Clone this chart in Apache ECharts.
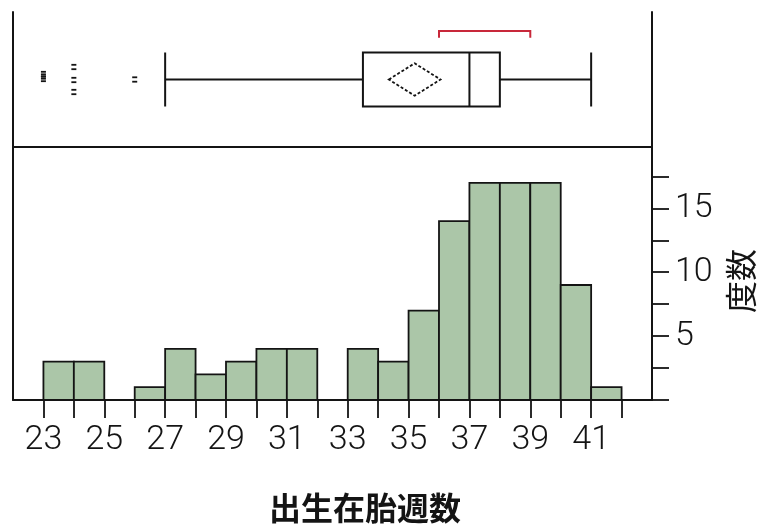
<!DOCTYPE html>
<html>
<head>
<meta charset="utf-8">
<style>
  html, body { margin: 0; padding: 0; background: #fff; }
  #chart { width: 762px; height: 525px; }
</style>
<script src="https://cdn.jsdelivr.net/npm/echarts@6/dist/echarts.min.js"></script>
</head>
<body>
<div id="chart"></div>
<script>
// Histogram bins (week at left edge, one week wide) and their counts
const binStarts = [23, 24, 25, 26, 27, 28, 29, 30, 31, 32, 33, 34, 35, 36, 37, 38, 39, 40, 41];
const counts    = [ 3,  3,  0,  1,  4,  2,  3,  4,  4,  0,  4,  3,  7, 14, 17, 17, 17,  9,  1];

// Axis ticks and labels
const xTickValues = [23, 24, 25, 26, 27, 28, 29, 30, 31, 32, 33, 34, 35, 36, 37, 38, 39, 40, 41, 42];
const xTickLabels = [23, 25, 27, 29, 31, 33, 35, 37, 39, 41];
const yTickValues = [0, 2.5, 5, 7.5, 10, 12.5, 15, 17.5];
const yTickLabels = [5, 10, 15];

// Outlier box plot summary
const whiskerLow  = 27;
const quartile1   = 33.5;
const median      = 37;
const quartile3   = 38;
const whiskerHigh = 41;
const mean        = 35.2;
const meanCI      = [34.35, 36.05];
const shortestHalf = [36, 39];
const outliers    = [23, 23, 23, 24, 24, 24, 26];

// vertical scatter of the outlier marks, in pixels from the box centre line
const outlierJitter = [-5.5, -3, -0.5, -12.5, 0.5, 12.5, 0];

const INK = '#141414';
const tickFont = { fontFamily: 'Roboto', fontWeight: 300, fontSize: 34, color: '#141414' };

function renderBox(params, api) {
  const h = params.coordSys.height;
  const pt = k => api.coord([api.value(k), 0.5]);
  const [xLo, cy] = pt(0);
  const xQ1 = pt(1)[0], xMed = pt(2)[0], xQ3 = pt(3)[0], xHi = pt(4)[0];
  const half = h * 0.2;
  const st = { stroke: INK, lineWidth: 2, fill: 'transparent' };
  const line = (x1, y1, x2, y2) => ({ type: 'line', shape: { x1, y1, x2, y2 }, style: st });
  return {
    type: 'group',
    children: [
      line(xLo, cy, xQ1, cy),
      line(xQ3, cy, xHi, cy),
      line(xLo, cy - half, xLo, cy + half),
      line(xHi, cy - half, xHi, cy + half),
      { type: 'rect', shape: { x: xQ1, y: cy - half, width: xQ3 - xQ1, height: 2 * half }, style: st },
      line(xMed, cy - half, xMed, cy + half)
    ]
  };
}

function renderDiamond(params, api) {
  const h = params.coordSys.height;
  const [xm, cy] = api.coord([api.value(0), 0.5]);
  const xl = api.coord([api.value(1), 0.5])[0];
  const xr = api.coord([api.value(2), 0.5])[0];
  const dh = h * 0.12;
  return {
    type: 'polygon',
    shape: { points: [[xl, cy], [xm, cy - dh], [xr, cy], [xm, cy + dh]] },
    style: { fill: 'transparent', stroke: INK, lineWidth: 1.8, lineDash: [3, 2] }
  };
}

function renderBracket(params, api) {
  const h = params.coordSys.height;
  const [x1, cy] = api.coord([api.value(0), 0.5]);
  const x2 = api.coord([api.value(1), 0.5])[0];
  const by = cy - h * 0.36;
  const leg = h * 0.05;
  return {
    type: 'polyline',
    shape: { points: [[x1, by + leg], [x1, by], [x2, by], [x2, by + leg]] },
    style: { fill: 'none', stroke: '#c8283a', lineWidth: 2 }
  };
}

function renderOutlier(params, api) {
  const [x, cy] = api.coord([api.value(0), 0.5]);
  const y = cy + outlierJitter[api.value(1)];
  const st = { stroke: INK, lineWidth: 1.8 };
  return {
    type: 'group',
    children: [
      { type: 'line', shape: { x1: x - 2.5, y1: y - 2.2, x2: x + 2.5, y2: y - 2.2 }, style: st },
      { type: 'line', shape: { x1: x - 2.5, y1: y + 2.2, x2: x + 2.5, y2: y + 2.2 }, style: st }
    ]
  };
}

function renderBar(params, api) {
  const start = api.value(0), n = api.value(1);
  if (!n) return null;
  const p0 = api.coord([start, 0]);
  const p1 = api.coord([start + 1, n]);
  return {
    type: 'rect',
    shape: { x: p0[0], y: p1[1], width: p1[0] - p0[0], height: p0[1] - p1[1] },
    style: { fill: '#abc6a8', stroke: INK, lineWidth: 1.8 }
  };
}

const frameLine = { show: true, lineStyle: { color: INK, width: 2 } };

const option = {
  animation: false,
  backgroundColor: '#ffffff',
  grid: [
    { left: 13, top: 12, width: 639, height: 135, containLabel: false, outerBoundsMode: 'none' },
    { left: 13, top: 147, width: 639, height: 253, containLabel: false, outerBoundsMode: 'none' }
  ],
  xAxis: [
    {
      gridIndex: 0, type: 'value', min: 22, max: 43, position: 'bottom',
      axisLine: frameLine, axisTick: { show: false }, axisLabel: { show: false }, splitLine: { show: false }
    },
    {
      gridIndex: 1, type: 'value', min: 22, max: 43, interval: 1, position: 'bottom',
      axisLine: frameLine,
      axisTick: { show: true, customValues: xTickValues, length: 18, lineStyle: { color: INK, width: 1.8 } },
      axisLabel: Object.assign({ show: true, customValues: xTickLabels, margin: 23 }, tickFont),
      splitLine: { show: false }
    }
  ],
  yAxis: [
    {
      gridIndex: 0, type: 'value', min: 0, max: 1, position: 'left',
      axisLine: frameLine, axisTick: { show: false }, axisLabel: { show: false }, splitLine: { show: false }
    },
    {
      gridIndex: 0, type: 'value', min: 0, max: 1, position: 'right',
      axisLine: frameLine, axisTick: { show: false }, axisLabel: { show: false }, splitLine: { show: false }
    },
    {
      gridIndex: 1, type: 'value', min: 0, max: 19.8, position: 'right',
      axisLine: frameLine,
      axisTick: { show: true, customValues: yTickValues, length: 17, lineStyle: { color: INK, width: 1.8 } },
      axisLabel: Object.assign({ show: true, customValues: yTickLabels, margin: 23 }, tickFont),
      splitLine: { show: false }
    },
    {
      gridIndex: 1, type: 'value', min: 0, max: 19.8, position: 'left',
      axisLine: frameLine, axisTick: { show: false }, axisLabel: { show: false }, splitLine: { show: false }
    }
  ],
  series: [
    {
      type: 'custom', name: 'box', xAxisIndex: 0, yAxisIndex: 0, clip: false,
      renderItem: renderBox,
      data: [[whiskerLow, quartile1, median, quartile3, whiskerHigh]]
    },
    {
      type: 'custom', name: 'mean', xAxisIndex: 0, yAxisIndex: 0, clip: false,
      renderItem: renderDiamond,
      data: [[mean, meanCI[0], meanCI[1]]]
    },
    {
      type: 'custom', name: 'shortest half', xAxisIndex: 0, yAxisIndex: 0, clip: false,
      renderItem: renderBracket,
      data: [shortestHalf]
    },
    {
      type: 'custom', name: 'outliers', xAxisIndex: 0, yAxisIndex: 0, clip: false,
      renderItem: renderOutlier,
      data: outliers.map((v, i) => [v, i])
    },
    {
      type: 'custom', name: '度数', xAxisIndex: 1, yAxisIndex: 2, clip: false,
      renderItem: renderBar,
      data: binStarts.map((b, i) => [b, counts[i]])
    }
  ],
  graphic: [
    {
      // axis title reads bottom-to-top beside the count axis
      type: 'text', x: 741, y: 281, rotation: Math.PI / 2,
      style: { text: '度数', fontFamily: '"Noto Sans CJK JP"', fontSize: 32, fill: INK, align: 'center', verticalAlign: 'middle' }
    },
    {
      type: 'text', x: 365, y: 508,
      style: { text: '出生在胎週数', fontFamily: '"Noto Sans CJK JP"', fontWeight: 'bold', fontSize: 32, fill: INK, align: 'center', verticalAlign: 'middle' }
    }
  ]
};

const chart = echarts.init(document.getElementById('chart'), null, { renderer: 'canvas' });
chart.setOption(option);
</script>
</body>
</html>
